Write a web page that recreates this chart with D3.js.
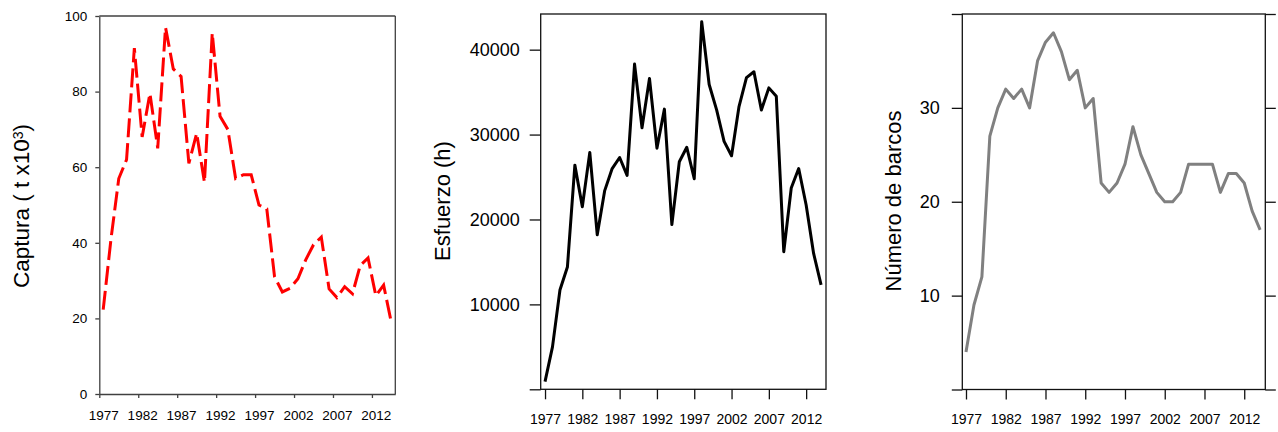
<!DOCTYPE html>
<html>
<head>
<meta charset="utf-8">
<script src="https://cdn.jsdelivr.net/npm/d3@7/dist/d3.min.js"></script>
<style>
  body { margin: 0; background: #fff; }
  svg text { font-family: "Liberation Sans", Arial, sans-serif; fill: #000; }
</style>
</head>
<body>
<svg id="chart" width="1278" height="432"></svg>
<script>
// years shown on every panel
var years = [1977, 1978, 1979, 1980, 1981, 1982, 1983, 1984, 1985, 1986,
             1987, 1988, 1989, 1990, 1991, 1992, 1993, 1994, 1995, 1996,
             1997, 1998, 1999, 2000, 2001, 2002, 2003, 2004, 2005, 2006,
             2007, 2008, 2009, 2010, 2011, 2012, 2013, 2014];
var yearTicks = [1977, 1982, 1987, 1992, 1997, 2002, 2007, 2012];

// Captura (t x10^3)
var captura = [22.3, 41, 57, 62, 91.5, 68, 79.5, 65, 97, 86,
               84, 61, 69, 56, 95.5, 73.5, 70, 57, 58, 58,
               50, 49, 31, 27, 28, 30.5, 35.5, 39.5, 41.5, 27.8,
               25.5, 28.4, 26.5, 34, 36, 26, 28.8, 18.8];
var capturaTicks = [0, 20, 40, 60, 80, 100];

// Esfuerzo (h)
var esfuerzo = [900, 5000, 11700, 14400, 26400, 21500, 27900, 18200, 23400, 26000,
                27300, 25200, 38300, 30800, 36600, 28400, 33000, 19400, 26800, 28500,
                24800, 43300, 35900, 32900, 29200, 27500, 33300, 36700, 37400, 32900,
                35500, 34500, 16200, 23700, 26000, 21700, 16000, 12300];
var esfuerzoTicks = [0, 10000, 20000, 30000, 40000];

// Numero de barcos
var barcos = [4, 9, 12, 27, 30, 32, 31, 32, 30, 35,
              37, 38, 36, 33, 34, 30, 31, 22, 21, 22,
              24, 28, 25, 23, 21, 20, 20, 21, 24, 24,
              24, 24, 21, 23, 23, 22, 19, 17];
var barcosTicks = [0, 10, 20, 30, 40];

var svg = d3.select("#chart");

// ---------- panel 1: captura (excel style) ----------
var x1 = d3.scaleLinear().domain([1976.5, 2014.5]).range([99.3, 395.3]);
var y1 = d3.scaleLinear().domain([0, 100]).range([394, 16]);
var p1 = svg.append("g");
var axisCol = "#404040";

p1.append("line").attr("x1", x1(1976.5)).attr("x2", x1(2014.5))
    .attr("y1", y1(100)).attr("y2", y1(100)).attr("stroke", axisCol).attr("stroke-width", 1.3);
p1.append("line").attr("x1", x1(2014.5)).attr("x2", x1(2014.5))
    .attr("y1", y1(0)).attr("y2", y1(100)).attr("stroke", axisCol).attr("stroke-width", 1.3);

var ax1 = p1.append("g").attr("transform", "translate(" + x1(1976.5) + ",0)")
    .call(d3.axisLeft(y1).tickValues(capturaTicks).tickSize(4).tickSizeOuter(0).tickPadding(8));
var bx1 = p1.append("g").attr("transform", "translate(0," + y1(0) + ")")
    .call(d3.axisBottom(x1).tickValues(yearTicks.map(function (d) { return d - 0.5; }))
        .tickSize(4).tickSizeOuter(0).tickPadding(12)
        .tickFormat(function (d) { return d + 0.5; }));
bx1.selectAll("text").attr("x", x1(1977) - x1(1976.5));
[ax1, bx1].forEach(function (a) {
    a.selectAll("path, line").attr("stroke", axisCol).attr("stroke-width", 1.3);
    a.selectAll("text").style("font-size", "13.5px");
});

p1.append("path")
    .datum(captura)
    .attr("fill", "none")
    .attr("stroke", "#ff0000")
    .attr("stroke-width", 3)
    .attr("stroke-dasharray", "19,6")
    .attr("d", d3.line().x(function (d, i) { return x1(years[i]); }).y(function (d) { return y1(d); }));

var t1 = p1.append("text").attr("transform", "translate(29,206) rotate(-90)")
    .attr("text-anchor", "middle").style("font-size", "22.5px");
t1.append("tspan").text("Captura ( t x10");
t1.append("tspan").attr("dy", "-0.45em").style("font-size", "14px").text("3");
t1.append("tspan").attr("dy", "0.3em").text(")");

// ---------- panel 2: esfuerzo ----------
var x2 = d3.scaleLinear().domain([1976.42, 2014.66]).range([540.7, 826]);
var y2 = d3.scaleLinear().domain([0, 44200]).range([389.3, 14]);
var p2 = svg.append("g");

p2.append("rect").attr("x", x2.range()[0]).attr("y", y2.range()[1])
    .attr("width", x2.range()[1] - x2.range()[0]).attr("height", y2.range()[0] - y2.range()[1])
    .attr("fill", "none").attr("stroke", "#111").attr("stroke-width", 1.3);

var ax2 = p2.append("g").attr("transform", "translate(" + x2.range()[0] + ",0)")
    .call(d3.axisLeft(y2).tickValues(esfuerzoTicks).tickSize(11).tickSizeOuter(0).tickPadding(10)
        .tickFormat(function (d) { return d === 0 ? "" : d; }));
var bx2 = p2.append("g").attr("transform", "translate(0," + y2(0) + ")")
    .call(d3.axisBottom(x2).tickValues(yearTicks).tickSize(10).tickSizeOuter(0).tickPadding(15)
        .tickFormat(d3.format("d")));
ax2.selectAll("text").style("font-size", "18px");
bx2.selectAll("text").style("font-size", "14px");
[ax2, bx2].forEach(function (a) {
    a.select(".domain").remove();
    a.selectAll("line").attr("stroke", "#111").attr("stroke-width", 1.3);
});

p2.append("path")
    .datum(esfuerzo)
    .attr("fill", "none")
    .attr("stroke", "#000")
    .attr("stroke-width", 3)
    .attr("stroke-linejoin", "round")
    .attr("d", d3.line().x(function (d, i) { return x2(years[i]); }).y(function (d) { return y2(d); }));

p2.append("text").attr("transform", "translate(450,201) rotate(-90)")
    .attr("text-anchor", "middle").style("font-size", "22px").text("Esfuerzo (h)");

// ---------- panel 3: numero de barcos ----------
var x3 = d3.scaleLinear().domain([1976.535, 2014.65]).range([962.3, 1265.3]);
var y3 = d3.scaleLinear().domain([0, 40]).range([389.5, 14]);
var p3 = svg.append("g");

p3.append("rect").attr("x", x3.range()[0]).attr("y", y3.range()[1])
    .attr("width", x3.range()[1] - x3.range()[0]).attr("height", y3.range()[0] - y3.range()[1])
    .attr("fill", "none").attr("stroke", "#111").attr("stroke-width", 1.3);

var ax3 = p3.append("g").attr("transform", "translate(" + x3.range()[0] + ",0)")
    .call(d3.axisLeft(y3).tickValues(barcosTicks).tickSize(10.5).tickSizeOuter(0).tickPadding(12)
        .tickFormat(function (d) { return (d === 0 || d === 40) ? "" : d; }));
var rx3 = p3.append("g").attr("transform", "translate(" + x3.range()[1] + ",0)")
    .call(d3.axisRight(y3).tickValues(barcosTicks).tickSize(10.5).tickSizeOuter(0).tickFormat(""));
var bx3 = p3.append("g").attr("transform", "translate(0," + y3(0) + ")")
    .call(d3.axisBottom(x3).tickValues(yearTicks).tickSize(10).tickSizeOuter(0).tickPadding(15)
        .tickFormat(d3.format("d")));
ax3.selectAll("text").style("font-size", "18px");
bx3.selectAll("text").style("font-size", "14px");
[ax3, rx3, bx3].forEach(function (a) {
    a.select(".domain").remove();
    a.selectAll("line").attr("stroke", "#111").attr("stroke-width", 1.3);
});

p3.append("path")
    .datum(barcos)
    .attr("fill", "none")
    .attr("stroke", "#808080")
    .attr("stroke-width", 3)
    .attr("stroke-linejoin", "round")
    .attr("d", d3.line().x(function (d, i) { return x3(years[i]); }).y(function (d) { return y3(d); }));

p3.append("text").attr("transform", "translate(901,201) rotate(-90)")
    .attr("text-anchor", "middle").style("font-size", "22px").text("Número de barcos");
</script>
</body>
</html>
